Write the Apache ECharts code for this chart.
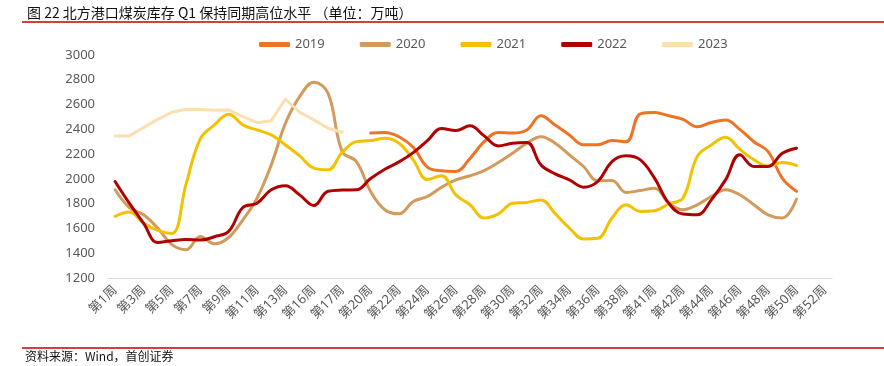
<!DOCTYPE html>
<html>
<head>
<meta charset="utf-8">
<script src="https://cdn.jsdelivr.net/npm/echarts@6/dist/echarts.min.js"></script>
<style>
html,body{margin:0;padding:0;background:#fff;}
#chart{width:884px;height:366px;}
</style>
</head>
<body>
<div id="chart"></div>
<script>
const categories = ['第1周','第2周','第3周','第4周','第5周','第6周','第7周','第8周','第9周','第10周',
  '第11周','第12周','第13周','第14周','第16周','第16周','第17周','第19周','第20周','第21周',
  '第22周','第23周','第24周','第25周','第26周','第27周','第28周','第29周','第30周','第31周',
  '第32周','第33周','第34周','第35周','第36周','第37周','第38周','第40周','第41周','第41周',
  '第42周','第43周','第44周','第45周','第46周','第47周','第48周','第49周','第50周','第51周','第52周'];

const s2019 = [null,null,null,null,null,null,null,null,null,null,
  null,null,null,null,null,null,null,null,2370,2375,
  2340,2255,2095,2065,2060,2165,2300,2375,2370,2395,
  2510,2435,2355,2275,2275,2310,2300,2525,2535,2510,
  2480,2420,2455,2475,2400,2300,2220,2005,1900,null,null];
const s2020 = [1912,1769,1710,1603,1469,1428,1535,1476,1527,1670,
  1845,2113,2449,2664,2780,2691,2220,2140,1898,1751,
  1718,1818,1858,1933,1992,2025,2067,2132,2207,2288,
  2341,2288,2194,2100,1985,1987,1890,1906,1925,1804,
  1751,1791,1858,1912,1872,1791,1710,1684,1837,null,null];
const s2021 = [1697,1732,1643,1584,1560,1960,2323,2436,2522,2436,
  2395,2355,2274,2186,2087,2073,2215,2301,2309,2328,
  2288,2154,1995,2025,1871,1791,1684,1718,1804,1810,
  1830,1720,1603,1515,1520,1684,1791,1737,1742,1799,
  1845,2180,2274,2336,2240,2154,2105,2132,2108,null,null];
const s2022 = [1979,1804,1643,1487,1501,1511,1506,1533,1576,1769,
  1804,1912,1945,1871,1785,1900,1910,1912,2003,2078,
  2137,2212,2309,2406,2390,2428,2347,2266,2288,2293,
  2113,2041,1992,1933,1979,2140,2186,2154,2006,1804,
  1716,1710,1831,1992,2194,2100,2100,2207,2248,null,null];
const s2023 = [2347,2347,2414,2481,2538,2562,2560,2555,2557,2503,
  2454,2470,2645,2538,2476,2409,2377];

const seriesNames = ['2019','2020','2021','2022','2023'];
const colors = ['#EE7325','#D29A5C','#F2C200','#B00000','#FADFB0'];
const dataList = [s2019, s2020, s2021, s2022, s2023];
const smoothFlags = [0.4, 0.4, 0.4, 0.4, false];

const chart = echarts.init(document.getElementById('chart'), null, {renderer:'canvas'});
const labelFont = "'Noto Sans', 'Noto Sans CJK SC', sans-serif";
const option = {
  backgroundColor: '#fff',
  animation: false,
  title: {
    text: '图 22 北方港口煤炭库存 Q1 保持同期高位水平 （单位：万吨）',
    left: 22, top: 1,
    textStyle: {fontFamily: "'Noto Sans CJK SC', sans-serif", fontWeight: 'normal', fontSize: 14, color: '#111'}
  },
  legend: {
    data: seriesNames,
    left: 254, top: 33,
    icon: 'roundRect',
    itemWidth: 31, itemHeight: 5,
    itemGap: 35,
    textStyle: {color: '#595959', fontSize: 13, fontFamily: labelFont}
  },
  grid: {left: 108, right: 52, top: 55, bottom: 88, containLabel: false},
  xAxis: {
    type: 'category',
    data: categories,
    boundaryGap: true,
    axisLine: {show: true, lineStyle: {color: '#D9D9D9', width: 1}},
    axisTick: {show: false},
    splitLine: {show: false},
    axisLabel: {interval: 1, rotate: 45, color: '#595959', fontSize: 13, margin: 10, fontFamily: labelFont}
  },
  yAxis: {
    type: 'value',
    min: 1200, max: 3000, interval: 200,
    axisLine: {show: false},
    axisTick: {show: false},
    splitLine: {show: false},
    axisLabel: {color: '#595959', fontSize: 13, margin: 13, fontFamily: labelFont, formatter: v => String(v)}
  },
  series: seriesNames.map((n, i) => ({
    name: n,
    type: 'line',
    data: dataList[i],
    smooth: smoothFlags[i],
    symbol: 'none',
    connectNulls: false,
    lineStyle: {width: 3, color: colors[i], cap: 'round', join: 'round'},
    itemStyle: {color: colors[i]}
  })),
  graphic: [
    {type: 'line', shape: {x1: 22, y1: 22, x2: 884, y2: 22}, style: {stroke: '#C00000', lineWidth: 1.5}},
    {type: 'line', shape: {x1: 22, y1: 348, x2: 884, y2: 348}, style: {stroke: '#C00000', lineWidth: 1.5}},
    {type: 'text', left: 25, top: 350, style: {text: '资料来源：Wind，首创证券', fill: '#111', fontSize: 12, fontFamily: "'Noto Sans CJK SC', sans-serif"}}
  ]
};
chart.setOption(option);
</script>
</body>
</html>
